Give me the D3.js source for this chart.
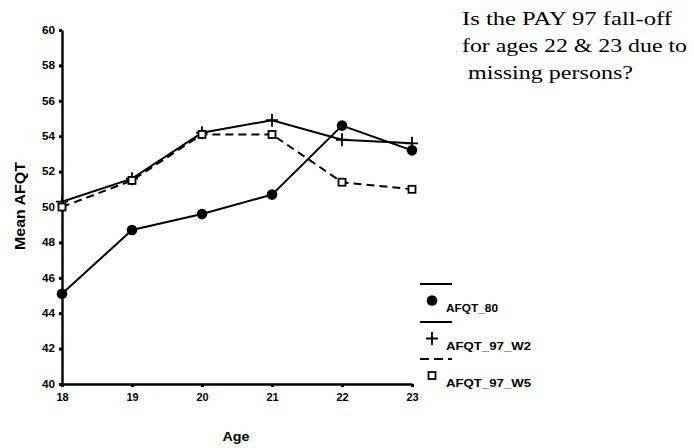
<!DOCTYPE html>
<html><head><meta charset="utf-8">
<script src="https://cdn.jsdelivr.net/npm/d3@7"></script>
<style>body{margin:0;background:#fff}svg{display:block}</style>
</head><body><svg id="c" width="694" height="448"></svg>
<script>
const ages = [18, 19, 20, 21, 22, 23];
const afqt80 = [45.1, 48.7, 49.6, 50.7, 54.6, 53.2];
const afqt97w2 = [50.3, 51.6, 54.2, 54.9, 53.8, 53.6];
const afqt97w5 = [50.0, 51.5, 54.1, 54.1, 51.4, 51.0];
const yTicks = [40, 42, 44, 46, 48, 50, 52, 54, 56, 58, 60];
const seriesNames = ["AFQT_80", "AFQT_97_W2", "AFQT_97_W5"];
const titleLines = ["Is the PAY 97 fall-off", "for ages 22 & 23 due to", " missing persons?"];
const xTitle = "Age", yTitle = "Mean AFQT";

const svg = d3.select("#c");
const x = d3.scaleLinear().domain([18, 23]).range([62, 412]);
const y = d3.scaleLinear().domain([40, 60]).range([384, 30]);
const sans = "Liberation Sans, Arial, sans-serif";

// axes
const ya = svg.append("g").attr("transform", "translate(62,0)")
  .call(d3.axisLeft(y).tickValues(yTicks).tickSize(3).tickSizeOuter(0).tickPadding(4));
ya.select(".domain").attr("stroke", "#000").attr("stroke-width", 2.4);
ya.selectAll(".tick line").attr("stroke", "#000").attr("stroke-width", 3);
ya.selectAll(".tick text").attr("font-family", sans)
  .attr("font-size", 10).attr("font-weight", "bold").attr("fill", "#000")
  .attr("textLength", 13).attr("lengthAdjust", "spacingAndGlyphs");

const xa = svg.append("g").attr("transform", "translate(0,384)")
  .call(d3.axisBottom(x).tickValues(ages).tickFormat(d3.format("d")).tickSize(3).tickSizeOuter(0).tickPadding(6));
xa.select(".domain").attr("stroke", "#000").attr("stroke-width", 2.4);
xa.selectAll(".tick line").attr("stroke", "#000").attr("stroke-width", 3);
xa.selectAll(".tick text").attr("font-family", sans)
  .attr("font-size", 11).attr("font-weight", "bold").attr("fill", "#000");

// axis titles
svg.append("text").attr("transform", "translate(25,206) rotate(-90)")
  .attr("text-anchor", "middle").attr("font-family", sans).attr("font-weight", "bold")
  .attr("font-size", 15).attr("textLength", 88).attr("lengthAdjust", "spacingAndGlyphs")
  .text(yTitle);
svg.append("text").attr("x", 236).attr("y", 441)
  .attr("text-anchor", "middle").attr("font-family", sans)
  .attr("font-size", 12).attr("font-weight", "bold").attr("textLength", 27).attr("lengthAdjust", "spacingAndGlyphs")
  .text(xTitle);

// lines
const series = [
  {name: seriesNames[0], vals: afqt80, dash: null, marker: "circle"},
  {name: seriesNames[1], vals: afqt97w2, dash: null, marker: "plus"},
  {name: seriesNames[2], vals: afqt97w5, dash: "8,5", marker: "square"}
];
const line = d3.line().x(d => x(d[0])).y(d => y(d[1]));

function drawMarker(g, type, cx, cy) {
  if (type === "circle") {
    g.append("circle").attr("cx", cx).attr("cy", cy).attr("r", 5.3).attr("fill", "#000");
  } else if (type === "plus") {
    g.append("path").attr("d", `M${cx-6},${cy}H${cx+6}M${cx},${cy-6.5}V${cy+6.5}`)
      .attr("stroke", "#000").attr("stroke-width", 1.8).attr("fill", "none");
  } else {
    g.append("rect").attr("x", cx-3.5).attr("y", cy-3.5).attr("width", 7).attr("height", 7)
      .attr("fill", "#fff").attr("stroke", "#000").attr("stroke-width", 1.8);
  }
}

series.forEach(s => {
  const pts = ages.map((a, i) => [a, s.vals[i]]);
  svg.append("path").attr("d", line(pts)).attr("fill", "none").attr("stroke", "#000")
    .attr("stroke-width", 2).attr("stroke-dasharray", s.dash);
  const g = svg.append("g");
  pts.forEach(p => drawMarker(g, s.marker, x(p[0]), y(p[1])));
});

// legend
const legY = [284, 322, 359];
series.forEach((s, i) => {
  svg.append("line").attr("x1", 420).attr("x2", 452).attr("y1", legY[i]).attr("y2", legY[i])
    .attr("stroke", "#000").attr("stroke-width", 2).attr("stroke-dasharray", s.dash ? "9,5" : null);
  drawMarker(svg.append("g"), s.marker, 432, legY[i] + 16.5);
  svg.append("text").attr("x", 446).attr("y", legY[i] + 28)
    .attr("font-family", sans).attr("font-size", 11).attr("font-weight", "bold")
    .attr("textLength", [52, 85, 85][i]).attr("lengthAdjust", "spacingAndGlyphs")
    .text(s.name);
});

// title note
const tl = [210, 225, 171];
titleLines.forEach((t, i) => {
  svg.append("text").attr("x", 462).attr("y", 25 + i * 27)
    .attr("font-family", "Liberation Serif, Times New Roman, serif").attr("font-size", 18.5)
    .style("white-space", "pre")
    .attr("textLength", tl[i]).attr("lengthAdjust", "spacingAndGlyphs")
    .text(t);
});
</script></body></html>
